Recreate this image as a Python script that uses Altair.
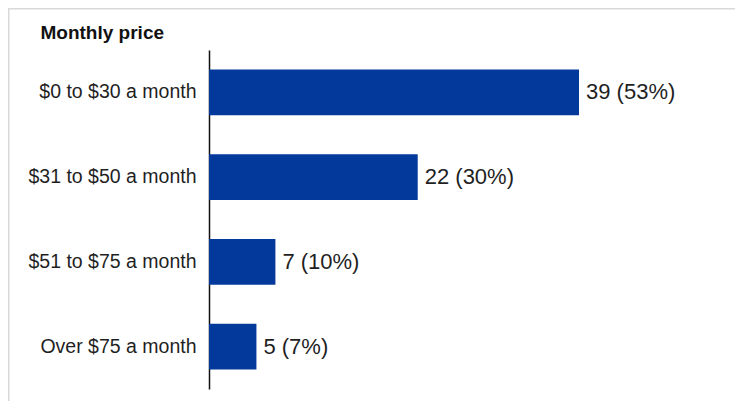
import altair as alt
import pandas as pd

categories = ["$0 to $30 a month", "$31 to $50 a month", "$51 to $75 a month", "Over $75 a month"]
counts = [39, 22, 7, 5]
percents = [53, 30, 10, 7]

df = pd.DataFrame({
    "cat": categories,
    "count": counts,
    "label": [f"{c} ({p}%)" for c, p in zip(counts, percents)],
})

W, H = 370, 339
PL, PT = 201, 42
TOTAL_W, TOTAL_H = 727, 393

y_enc = alt.Y(
    "cat:N",
    sort=categories,
    scale=alt.Scale(paddingInner=0.46, paddingOuter=0.23),
    axis=alt.Axis(
        title="Monthly price",
        titleAngle=0,
        titleAlign="left",
        titleBaseline="alphabetic",
        titleX=-169,
        titleY=-12,
        titleFont="Liberation Sans",
        titleFontSize=19,
        titleFontWeight="bold",
        titleColor="#111111",
        labelFont="Liberation Sans",
        labelFontSize=19.5,
        labelColor="#1f1f1f",
        labelPadding=13,
        ticks=False,
        grid=False,
        domainColor="#111111",
        domainWidth=1.5,
    ),
)
x_enc = alt.X("count:Q", scale=alt.Scale(domain=[0, 39], nice=False), axis=None)

bars = alt.Chart(df).mark_bar(color="#04399C").encode(y=y_enc, x=x_enc)
texts = alt.Chart(df).mark_text(
    align="left", baseline="middle", dx=7, font="Liberation Sans", fontSize=22, color="#1f1f1f"
).encode(y=alt.Y("cat:N", sort=categories), x="count:Q", text="label:N")

frame_data = alt.Data(values=[{"a": 1}])
left_line = alt.Chart(frame_data).mark_rule(color="#d9d9d9", strokeWidth=2).encode(
    x=alt.value(-PL + 0.5), y=alt.value(-PT), y2=alt.value(TOTAL_H - PT)
)
top_line = alt.Chart(frame_data).mark_rule(color="#d9d9d9", strokeWidth=2).encode(
    x=alt.value(-PL), x2=alt.value(TOTAL_W - PL), y=alt.value(-PT + 0.5)
)

chart = alt.layer(bars, texts, left_line, top_line).properties(
    width=W,
    height=H,
    autosize=alt.AutoSizeParams(type="none"),
    padding={"left": PL, "top": PT, "right": TOTAL_W - PL - W, "bottom": TOTAL_H - PT - H},
).configure(background="white").configure_view(stroke=None, strokeWidth=0)

chart.save("out.html", embed_options={"renderer": "svg", "actions": False})
